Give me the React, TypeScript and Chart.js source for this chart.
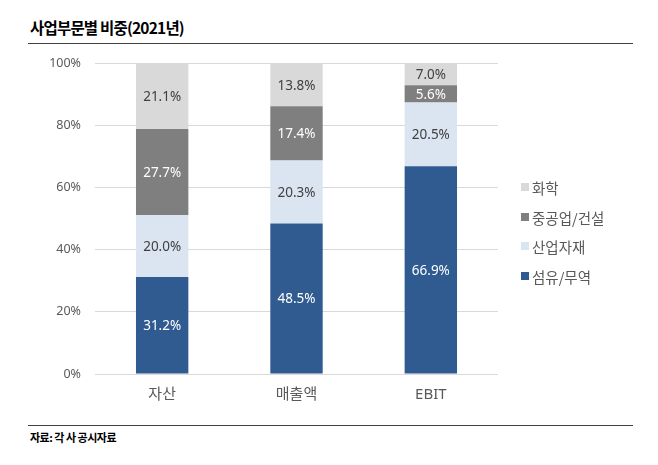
import React, { useEffect, useRef } from "react";
import { Chart, registerables } from "chart.js";

Chart.register(...registerables);

const categories = ["자산", "매출액", "EBIT"];
const textileTrade = [31.2, 48.5, 66.9];
const industrialMaterials = [20.0, 20.3, 20.5];
const heavyConstruction = [27.7, 17.4, 5.6];
const chemicals = [21.1, 13.8, 7.0];
const yTicks = [0, 20, 40, 60, 80, 100];

const seriesNames = ["섬유/무역", "산업자재", "중공업/건설", "화학"];
const seriesColors = ["#2F5B91", "#DBE4F1", "#7F7F7F", "#D9D9D9"];
const labelColors = ["#FFFFFF", "#404040", "#FFFFFF", "#404040"];

const FONT = "'Noto Sans', 'Noto Sans CJK KR', sans-serif";

const dataLabelPlugin = {
  id: "dataLabels",
  afterDatasetsDraw(chart: any) {
    const ctx = chart.ctx;
    ctx.save();
    ctx.font = `13.5px ${FONT}`;
    ctx.textAlign = "center";
    ctx.textBaseline = "middle";
    chart.data.datasets.forEach((ds: any, i: number) => {
      const meta = chart.getDatasetMeta(i);
      meta.data.forEach((bar: any, j: number) => {
        const v = ds.data[j];
        const y = (bar.y + bar.base) / 2;
        ctx.fillStyle = labelColors[i];
        ctx.fillText(v.toFixed(1) + "%", bar.x, y + 1);
      });
    });
    ctx.restore();
  },
};

export default function App() {
  const ref = useRef<HTMLCanvasElement>(null);
  useEffect(() => {
    const values = [textileTrade, industrialMaterials, heavyConstruction, chemicals];
    const chart = new Chart(ref.current!, {
      type: "bar",
      data: {
        labels: categories,
        datasets: seriesNames.map((name, i) => ({
          label: name,
          data: values[i],
          backgroundColor: seriesColors[i],
          borderWidth: 0,
          barPercentage: 0.39,
          categoryPercentage: 1,
        })),
      },
      options: {
        animation: false,
        responsive: false,
        maintainAspectRatio: false,
        layout: { padding: { top: 13, right: 160, bottom: 0, left: 0 } },
        plugins: { legend: { display: false }, tooltip: { enabled: false } },
        scales: {
          x: {
            stacked: true,
            grid: { display: false, drawTicks: false },
            border: { display: false },
            ticks: { color: "#595959", font: { family: FONT, size: 15 }, padding: 12 },
            afterFit: (s: any) => { s.height = 46; },
          },
          y: {
            stacked: true,
            min: 0,
            max: 100,
            afterBuildTicks: (s: any) => { s.ticks = yTicks.map((v) => ({ value: v })); },
            grid: { color: "#D9D9D9", drawTicks: false, lineWidth: 1 },
            border: { display: false },
            ticks: {
              color: "#595959",
              font: { family: FONT, size: 12.5 },
              padding: 14,
              callback: (v: any) => v + "%",
            },
            afterFit: (s: any) => { s.width = 95; },
          },
        },
      },
      plugins: [dataLabelPlugin],
    });
    return () => chart.destroy();
  }, []);

  const legendOrder = [3, 2, 1, 0];
  const legendY = [187, 217, 246, 276];

  return (
    <div style={{ position: "fixed", left: 0, top: 0, width: 658, height: 465, background: "#fff", fontFamily: FONT }}>
      <div style={{ position: "absolute", left: 30, top: 17, fontSize: 15.5, fontWeight: 700, color: "#000", letterSpacing: -0.8, fontFamily: "'Noto Sans CJK KR', sans-serif", lineHeight: "20px" }}>
        사업부문별 비중(2021년)
      </div>
      <div style={{ position: "absolute", left: 28, top: 43, width: 605, height: 1, background: "#404040" }} />
      <canvas ref={ref} width={658} height={378} style={{ position: "absolute", left: 0, top: 42, width: 658, height: 378 }} />
      {legendOrder.map((si, k) => (
        <div key={si} style={{ position: "absolute", left: 521, top: legendY[k] - 10, height: 20, display: "flex", alignItems: "center", fontSize: 14.5, color: "#595959", fontFamily: "'Noto Sans CJK KR', sans-serif" }}>
          <span style={{ display: "inline-block", width: 8, height: 8, background: seriesColors[si], marginRight: 3 }} />
          {seriesNames[si]}
        </div>
      ))}
      <div style={{ position: "absolute", left: 28, top: 425, width: 605, height: 1, background: "#404040" }} />
      <div style={{ position: "absolute", left: 30, top: 429, fontSize: 11, fontWeight: 700, color: "#000", letterSpacing: -0.5, fontFamily: "'Noto Sans CJK KR', sans-serif", lineHeight: "16px" }}>
        자료: 각 사 공시자료
      </div>
    </div>
  );
}
